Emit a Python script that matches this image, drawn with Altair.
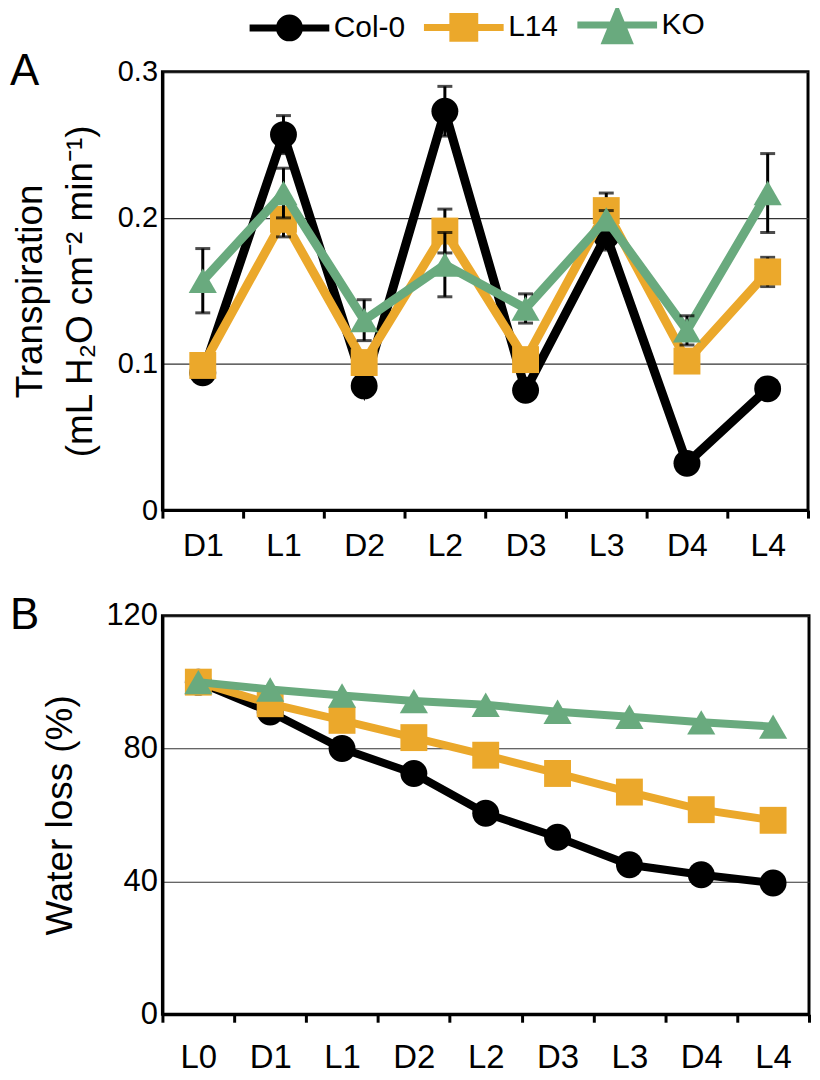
import altair as alt
import pandas as pd

FONT = "Liberation Sans"

series_names = ["Col-0", "L14", "KO"]
series_colors = ["#000000", "#EBA82B", "#69AA7E"]
series_shapes = ["circle", "square", "triangle-up"]

# Panel A: transpiration (mL H2O cm-2 min-1)
periods_a = ["D1", "L1", "D2", "L2", "D3", "L3", "D4", "L4"]
col0_a = [0.094, 0.257, 0.085, 0.273, 0.082, 0.188, 0.032, 0.083]
col0_a_err = [0.004, 0.013, 0.004, 0.017, 0.004, 0.010, 0.003, 0.004]
l14_a = [0.099, 0.199, 0.101, 0.191, 0.103, 0.205, 0.102, 0.163]
l14_a_err = [0.005, 0.012, 0.005, 0.015, 0.005, 0.012, 0.005, 0.010]
ko_a = [0.157, 0.217, 0.130, 0.168, 0.138, 0.199, 0.123, 0.217]
ko_a_err = [0.022, 0.017, 0.014, 0.022, 0.010, 0.006, 0.010, 0.027]

# Panel B: water loss (%)
periods_b = ["L0", "D1", "L1", "D2", "L2", "D3", "L3", "D4", "L4"]
col0_b = [100, 91.0, 80.0, 72.5, 60.5, 53.3, 45.0, 42.0, 39.5]
l14_b = [100, 93.5, 88.5, 83.3, 78.0, 72.5, 66.9, 61.6, 58.4]
ko_b = [100, 97.8, 96.0, 94.3, 93.2, 91.1, 89.6, 87.9, 86.6]

ticks_a = [0, 0.1, 0.2, 0.3]
ticks_b = [0, 40, 80, 120]

# legend symbols: line segment + marker (unit = sqrt(symbolSize)/2)
legend_paths = [
    "M-1.35,0H6.65M1.65,0A1,1 0 1,0 3.65,0A1,1 0 1,0 1.65,0ZM2.3,0A0.35,0.35 0 1,0 3.0,0A0.35,0.35 0 1,0 2.3,0Z",
    "M-1.35,0H6.65M1.55,-1.1H3.75V1.1H1.55ZM2.25,-0.4H3.05V0.4H2.25Z",
    "M-1.35,0H6.65M2.65,-1.2L3.8,1.6L1.5,1.6ZM2.65,0L3.1,1.15L2.2,1.15Z",
]

rows_a = []
for name, vals, errs in zip(series_names, [col0_a, l14_a, ko_a], [col0_a_err, l14_a_err, ko_a_err]):
    for p, v, e in zip(periods_a, vals, errs):
        rows_a.append({"series": name, "period": p, "value": v, "lo": v - e, "hi": v + e})
df_a = pd.DataFrame(rows_a)

rows_b = []
for name, vals in zip(series_names, [col0_b, l14_b, ko_b]):
    for p, v in zip(periods_b, vals):
        rows_b.append({"series": name, "period": p, "value": v})
df_b = pd.DataFrame(rows_b)

xa = alt.X("period:N", sort=periods_a,
           scale=alt.Scale(type="band", paddingInner=0, paddingOuter=0),
           axis=alt.Axis(title=None, tickBand="extent", labelFontSize=32, labelPadding=13,
                         tickSize=8, grid=False, labelAngle=0))
ya_axis = alt.Axis(title=["Transpiration", "(mL H\u2082O cm\u207b\u00b2 min\u207b\u00b9)"],
                   values=ticks_a, format="~g", labelFontSize=29, ticks=False,
                   labelPadding=5, grid=True, titlePadding=18)


def ya(field):
    return alt.Y(f"{field}:Q", scale=alt.Scale(domain=[0, 0.3], nice=False), axis=ya_axis)


xb = alt.X("period:N", sort=periods_b,
           scale=alt.Scale(type="band", paddingInner=0, paddingOuter=0),
           axis=alt.Axis(title=None, tickBand="extent", labelFontSize=33, labelPadding=19,
                         tickSize=8, grid=False, labelAngle=0))
yb = alt.Y("value:Q", scale=alt.Scale(domain=[0, 120], nice=False),
           axis=alt.Axis(title="Water loss (%)", values=ticks_b, labelFontSize=31, ticks=False,
                         labelPadding=5, grid=True, titlePadding=27))

sizes = [729, 729, 800]

layers_a = []
for name, color, shape, size in zip(series_names, series_colors, series_shapes, sizes):
    base = alt.Chart(df_a).transform_filter(alt.datum.series == name)
    layers_a.append(base.mark_line(color=color, strokeWidth=9).encode(x=xa, y=ya("value")))
    layers_a.append(base.mark_rule(color="black", strokeWidth=3).encode(x=xa, y=ya("lo"), y2="hi:Q"))
    layers_a.append(base.mark_tick(color="black", thickness=3, size=15, orient="horizontal").encode(x=xa, y=ya("lo")))
    layers_a.append(base.mark_tick(color="black", thickness=3, size=15, orient="horizontal").encode(x=xa, y=ya("hi")))
    layers_a.append(base.mark_point(shape=shape, filled=True, color=color, size=size, opacity=1)
                    .encode(x=xa, y=ya("value")))

legend_def = alt.Legend(title=None, orient="none", legendX=86, legendY=-62, direction="horizontal",
                        symbolSize=400, symbolStrokeWidth=7, symbolOpacity=1,
                        labelFontSize=30, labelFont=FONT, labelColor="black",
                        labelOffset=56, columnPadding=4, padding=0)
legend_layer = alt.Chart(df_a).mark_point(filled=False, opacity=0).encode(
    x=xa, y=ya("value"),
    color=alt.Color("series:N", scale=alt.Scale(domain=series_names, range=series_colors), legend=legend_def),
    shape=alt.Shape("series:N", scale=alt.Scale(domain=series_names, range=legend_paths), legend=legend_def),
)
layers_a.append(legend_layer)
layers_a.append(alt.Chart(pd.DataFrame({"label": ["A"]})).mark_text(
    align="left", baseline="alphabetic", fontSize=44, font=FONT, color="black"
).encode(text="label:N", x=alt.value(-153), y=alt.value(13)))

layers_b = []
for name, color, shape, size in zip(series_names, series_colors, series_shapes, sizes):
    base = alt.Chart(df_b).transform_filter(alt.datum.series == name)
    layers_b.append(base.mark_line(color=color, strokeWidth=8).encode(x=xb, y=yb))
    layers_b.append(base.mark_point(shape=shape, filled=True, color=color, size=size, opacity=1)
                    .encode(x=xb, y=yb))
layers_b.append(alt.Chart(pd.DataFrame({"label": ["B"]})).mark_text(
    align="left", baseline="alphabetic", fontSize=44, font=FONT, color="black"
).encode(text="label:N", x=alt.value(-153), y=alt.value(13)))

panel_a = alt.layer(*layers_a).properties(width=648, height=440)
panel_b = alt.layer(*layers_b).properties(width=649, height=400)

chart = alt.vconcat(panel_a, panel_b, spacing=28).properties(
    padding={"left": 0, "top": 0, "right": 0, "bottom": 0}
).configure_view(
    stroke="black", strokeWidth=3
).configure_axis(
    domainColor="black", domainWidth=3, tickColor="black", tickWidth=3,
    gridColor="#333333", gridWidth=1.2,
    labelFont=FONT, labelColor="black",
    titleFont=FONT, titleFontSize=37, titleFontWeight="normal", titleColor="black",
    titleLineHeight=50,
)

chart.save("out.html", embed_options={"renderer": "svg", "actions": False})
